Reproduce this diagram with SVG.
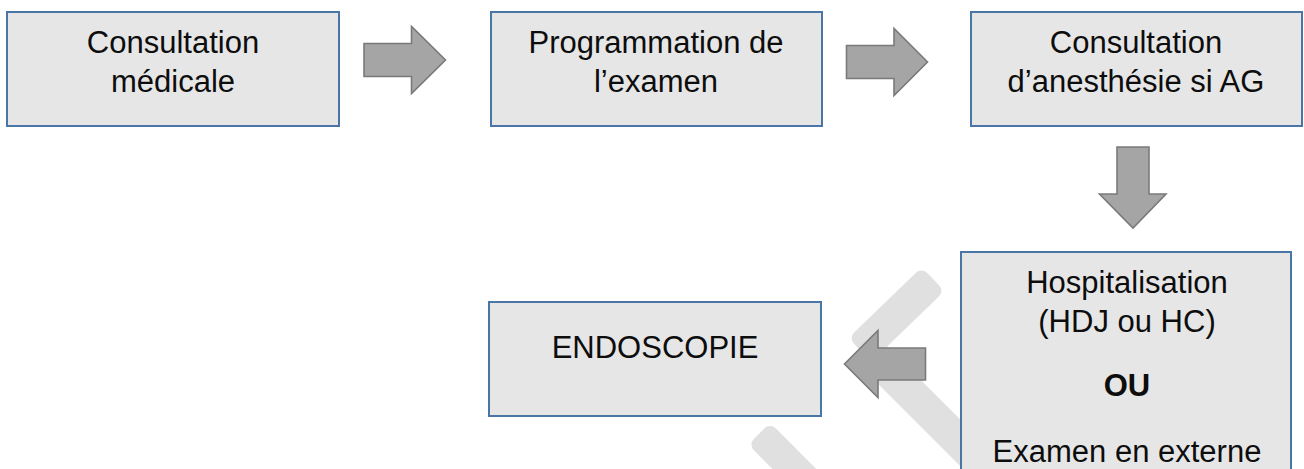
<svg xmlns="http://www.w3.org/2000/svg" width="1304" height="469" viewBox="0 0 1304 469">
  <style>
    .box { fill: #e6e6e6; stroke: #4a76a6; stroke-width: 2; }
    .txt { font-family: "Liberation Sans", Arial, sans-serif; font-size: 31px; fill: #0d0d0d; text-anchor: middle; }
    .bold { font-weight: bold; }
    .arrow { fill: #a5a5a5; stroke: #7a7a7a; stroke-width: 1.6; stroke-linejoin: miter; }
    .band { fill: #e0e0e0; }
  </style>
  <rect width="1304" height="469" fill="#ffffff"/>

  <!-- light grey background strokes -->
  <g id="background-strokes">
    <rect class="band" x="-51" y="-16.5" width="102" height="33" rx="8" transform="translate(896.5 314.5) rotate(-44)"/>
    <rect class="band" x="-92" y="-16.5" width="184" height="33" rx="8" transform="translate(935 417.5) rotate(45)"/>
    <rect class="band" x="-43" y="-15.5" width="86" height="31" rx="8" transform="translate(789.5 464) rotate(45)"/>
  </g>

  <g id="node-consultation-medicale">
    <rect class="box" x="7" y="12" width="332" height="114"/>
    <text class="txt" x="173" y="53">Consultation</text>
    <text class="txt" x="173" y="92">médicale</text>
  </g>

  <g id="node-programmation">
    <rect class="box" x="491" y="12" width="331" height="114"/>
    <text class="txt" x="656" y="53">Programmation de</text>
    <text class="txt" x="656" y="92">l’examen</text>
  </g>

  <g id="node-consultation-anesthesie">
    <rect class="box" x="971" y="12" width="331" height="114"/>
    <text class="txt" x="1136" y="53">Consultation</text>
    <text class="txt" x="1136" y="92">d’anesthésie si AG</text>
  </g>

  <g id="node-hospitalisation">
    <rect class="box" x="961" y="252" width="330" height="230"/>
    <text class="txt" x="1127" y="293">Hospitalisation</text>
    <text class="txt" x="1127" y="332">(HDJ ou HC)</text>
    <text class="txt bold" x="1127" y="396">OU</text>
    <text class="txt" x="1127" y="462">Examen en externe</text>
  </g>

  <g id="node-endoscopie">
    <rect class="box" x="489" y="302" width="332" height="114"/>
    <text class="txt" x="655" y="358">ENDOSCOPIE</text>
  </g>

  <g id="connectors">
    <!-- right arrow: consultation -> programmation -->
    <polygon class="arrow" points="364,43.5 411.5,43.5 411.5,26.5 445.5,60 411.5,93.5 411.5,76.5 364,76.5"/>
    <!-- right arrow: programmation -> anesthesie -->
    <polygon class="arrow" points="846.5,45.5 894,45.5 894,28.5 927.5,62 894,95.5 894,78.5 846.5,78.5"/>
    <!-- down arrow: anesthesie -> hospitalisation -->
    <polygon class="arrow" points="1117,147 1149,147 1149,194 1166,194 1133,228 1099.5,194 1117,194"/>
    <!-- left arrow: hospitalisation -> endoscopie -->
    <polygon class="arrow" points="925.5,348 878,348 878,330.5 844.5,364 878,397.5 878,380 925.5,380"/>
  </g>
</svg>
